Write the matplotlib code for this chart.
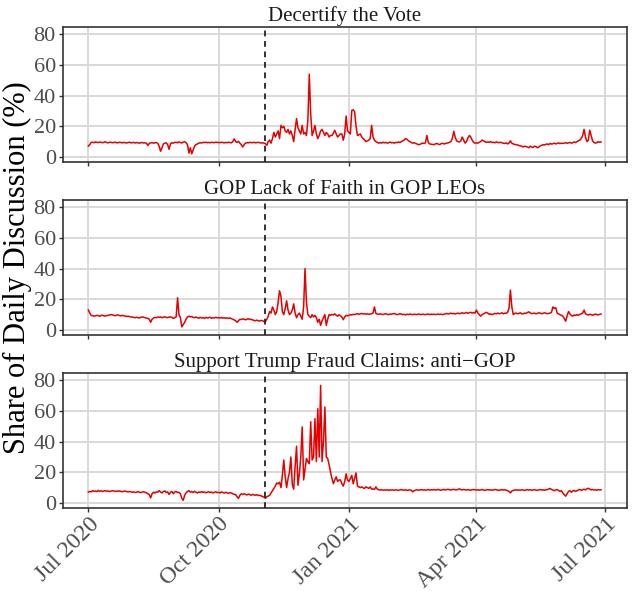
import matplotlib
matplotlib.use("Agg")
import matplotlib.pyplot as plt
import numpy as np
import pandas as pd

plt.rcParams['font.family'] = ['Liberation Serif', 'DejaVu Serif']

start_date = "2020-07-01"
election_date = "2020-11-03"
panel_titles = ["Decertify the Vote", "GOP Lack of Faith in GOP LEOs",
                "Support Trump Fraud Claims: anti\u2212GOP"]
tick_dates = ["2020-07-01", "2020-10-01", "2021-01-01", "2021-04-01", "2021-07-01"]
tick_labels = ["Jul 2020", "Oct 2020", "Jan 2021", "Apr 2021", "Jul 2021"]
y_ticks = [0, 20, 40, 60, 80]

# ---- Decertify the Vote (daily, by month) ----
dec_jul = [7.1, 8.0, 9.5, 9.6, 9.3, 9.8, 9.5, 9.4, 9.7, 9.6, 9.3, 9.5, 9.9, 9.4, 9.2, 9.6,
           9.5, 9.3, 9.4, 9.7, 9.2, 9.3, 9.6, 9.4, 9.2, 9.5, 9.3, 9.1, 9.4, 9.6, 9.2]
dec_aug = [9.3, 9.5, 9.1, 9.4, 9.2, 9.0, 9.3, 9.4, 9.1, 9.2, 9.0, 7.5, 8.8, 9.2, 9.3, 9.0,
           9.2, 9.4, 8.9, 7.0, 3.7, 6.0, 8.5, 9.0, 9.2, 8.0, 5.0, 8.5, 9.3, 9.0, 9.5]
dec_sep = [9.6, 9.2, 9.8, 9.4, 9.1, 9.7, 10.0, 9.3, 8.0, 2.5, 6.0, 2.0, 4.5, 7.0, 8.0,
           8.5, 9.0, 9.3, 9.1, 9.5, 9.4, 9.6, 9.3, 9.5, 9.2, 9.6, 9.4, 9.3, 9.7, 9.4]
dec_oct = [9.5, 9.3, 9.6, 9.4, 9.2, 9.5, 9.3, 9.6, 9.4, 9.2, 10.0, 11.8, 10.0, 9.5, 10.2,
           9.0, 8.0, 6.5, 8.0, 9.0, 9.3, 9.2, 9.5, 9.4, 9.3, 9.6, 9.2, 9.4, 9.5, 9.3, 9.1]
dec_nov = [9.2, 9.0, 8.7, 7.6, 10.0, 11.0, 9.0, 12.0, 16.0, 13.0, 15.0, 17.0, 12.0, 20.6,
           19.0, 20.0, 17.0, 16.0, 18.0, 15.0, 17.0, 14.0, 10.0, 18.0, 25.0, 19.0, 17.0,
           15.0, 20.6, 15.0]
dec_dec = [16.0, 14.0, 24.0, 54.0, 28.0, 14.0, 17.0, 20.6, 15.0, 12.0, 14.0, 17.0, 18.0,
           16.0, 14.0, 16.0, 15.0, 13.0, 14.0, 14.0, 15.5, 17.4, 15.0, 13.0, 14.0, 15.0,
           15.0, 10.9, 15.0, 26.7, 17.0]
dec_jan = [16.0, 15.0, 30.4, 30.8, 29.5, 20.0, 14.0, 14.5, 15.0, 13.0, 12.0, 11.0, 10.0,
           10.5, 11.0, 12.0, 20.6, 13.0, 11.0, 10.0, 9.5, 9.0, 9.4, 9.0, 9.6, 9.2, 9.5, 9.0,
           9.3, 9.7, 9.2]
dec_feb = [9.4, 9.0, 9.5, 9.3, 9.8, 9.4, 10.0, 10.5, 11.0, 12.0, 11.5, 10.5, 10.0, 9.5,
           9.0, 9.3, 8.8, 8.5, 8.0, 8.2, 8.6, 9.0, 8.8, 9.2, 14.0, 9.5, 8.5, 8.3]
dec_mar = [8.2, 8.0, 8.5, 8.8, 8.4, 8.0, 8.6, 8.9, 8.5, 8.7, 9.0, 9.2, 9.5, 10.0, 12.0,
           16.7, 13.0, 10.5, 10.0, 9.8, 10.5, 13.0, 11.0, 9.0, 10.0, 12.5, 14.0, 13.0, 11.0,
           9.5, 9.0]
dec_apr = [9.2, 9.0, 9.5, 10.0, 11.0, 10.5, 10.0, 9.5, 9.8, 9.5, 10.0, 9.4, 9.6, 9.2, 9.8,
           9.5, 9.3, 9.6, 9.2, 9.0, 8.8, 9.2, 8.5, 9.0, 10.5, 9.0, 8.5, 8.2, 8.0, 7.8]
dec_may = [7.5, 7.2, 7.0, 6.5, 7.0, 6.8, 6.5, 6.0, 7.0, 6.5, 6.2, 7.0, 6.8, 6.0, 6.5, 7.2,
           7.5, 8.0, 7.8, 8.2, 8.5, 8.0, 8.8, 8.4, 8.6, 9.0, 8.5, 8.8, 9.2, 8.7, 9.0]
dec_jun = [8.8, 9.0, 9.3, 8.9, 9.2, 9.5, 9.0, 9.3, 9.8, 9.4, 10.0, 10.5, 11.0, 12.0, 14.0,
           18.0, 13.0, 10.0, 11.0, 17.5, 14.0, 10.5, 9.5, 9.0, 9.3, 10.0, 9.5, 9.8]

# ---- GOP Lack of Faith in GOP LEOs ----
lof_jul = [13.0, 11.0, 9.5, 9.3, 9.0, 9.2, 9.5, 9.3, 9.0, 9.4, 9.6, 9.2, 9.0, 9.4, 9.5,
           9.8, 10.0, 9.8, 9.5, 9.3, 9.6, 9.8, 9.4, 9.2, 9.5, 9.3, 9.0, 8.8, 9.0, 8.7, 8.5]
lof_aug = [8.4, 8.2, 8.0, 8.3, 8.0, 7.8, 8.2, 8.5, 8.3, 8.0, 7.8, 7.5, 7.0, 5.0, 7.0, 7.8,
           8.2, 8.0, 8.4, 8.2, 8.5, 8.0, 8.3, 8.6, 8.2, 8.0, 8.4, 8.5, 8.2, 7.5, 8.0]
lof_sep = [8.5, 21.0, 10.0, 8.0, 2.0, 3.5, 5.0, 7.0, 8.5, 9.0, 8.5, 8.8, 8.2, 8.0, 8.4,
           8.0, 7.6, 8.2, 7.8, 8.0, 7.5, 8.2, 7.8, 8.0, 8.3, 7.6, 8.0, 7.8, 8.2, 7.9]
lof_oct = [8.0, 7.8, 8.1, 7.7, 8.0, 7.6, 7.9, 7.5, 7.8, 7.4, 7.0, 6.5, 6.0, 5.0, 6.0, 7.0,
           6.8, 7.2, 7.0, 6.6, 7.0, 7.3, 6.8, 7.0, 6.5, 6.2, 6.0, 6.4, 6.0, 5.8, 6.2]
lof_nov = [6.0, 5.5, 5.5, 7.0, 9.0, 12.0, 11.0, 15.0, 13.0, 10.0, 12.0, 18.0, 25.6, 22.0,
           12.0, 10.0, 14.0, 19.0, 13.0, 10.0, 11.0, 13.0, 17.0, 11.0, 8.0, 10.0, 11.0, 9.0,
           7.0, 15.0]
lof_dec = [40.0, 18.0, 10.0, 9.0, 8.0, 10.0, 8.5, 9.5, 8.0, 5.0, 7.0, 3.0, 6.0, 8.0, 10.0,
           3.0, 7.0, 10.0, 9.5, 10.2, 9.8, 10.5, 9.6, 9.0, 9.8, 9.2, 8.5, 6.7, 8.5, 9.5, 9.2]
lof_jan = [9.5, 10.0, 9.8, 10.2, 10.0, 10.4, 10.6, 10.2, 10.5, 10.8, 10.4, 10.6, 10.3, 10.5,
           10.2, 10.4, 10.6, 11.0, 15.0, 10.8, 10.4, 10.2, 10.5, 10.3, 10.0, 10.4, 10.6, 10.2,
           10.0, 10.4, 10.3]
lof_feb = [10.5, 10.8, 10.3, 10.0, 10.2, 10.6, 10.4, 10.0, 10.2, 9.8, 10.3, 10.0, 10.4,
           10.2, 9.9, 10.3, 10.1, 10.0, 10.4, 10.2, 10.0, 10.3, 10.1, 10.0, 10.2, 10.4, 10.0,
           10.3]
lof_mar = [10.1, 10.3, 10.0, 10.2, 10.4, 10.1, 10.3, 10.0, 10.2, 10.5, 10.8, 10.4, 10.6,
           11.0, 10.5, 10.8, 10.4, 10.7, 11.0, 10.6, 10.9, 11.2, 10.8, 11.0, 11.4, 10.8, 11.2,
           11.5, 11.0, 11.3, 11.0]
lof_apr = [13.0, 11.0, 10.0, 9.0, 10.0, 10.5, 11.0, 11.5, 11.0, 10.2, 10.5, 10.0, 10.3,
           10.8, 10.5, 11.0, 10.6, 10.8, 11.2, 10.5, 11.0, 10.8, 11.5, 14.0, 26.0, 15.0, 10.0,
           10.8, 11.0, 10.5]
lof_may = [10.8, 11.2, 10.6, 10.4, 11.0, 10.8, 11.4, 11.8, 11.2, 10.6, 10.8, 11.0, 10.5,
           10.8, 11.2, 11.0, 10.6, 10.8, 11.2, 10.9, 10.6, 10.8, 11.0, 11.5, 15.0, 14.0, 14.5,
           11.0, 10.5, 10.0, 9.5]
lof_jun = [9.0, 7.5, 5.7, 9.0, 12.0, 10.5, 9.5, 9.0, 9.8, 9.4, 10.0, 9.6, 10.2, 10.5, 11.0,
           13.0, 10.5, 10.0, 9.8, 10.2, 10.0, 9.6, 10.0, 10.4, 10.0, 9.8, 10.2, 10.4]

# ---- Support Trump Fraud Claims: anti-GOP ----
stf_jul = [7.0, 7.5, 7.2, 8.0, 7.6, 7.8, 7.4, 8.2, 7.6, 7.9, 7.5, 7.8, 8.0, 7.6, 7.9, 7.4,
           7.7, 8.0, 7.8, 7.5, 7.8, 7.6, 7.9, 7.5, 7.3, 7.6, 7.8, 7.4, 7.2, 7.5, 7.3]
stf_aug = [7.0, 7.2, 6.8, 7.0, 7.4, 7.0, 6.7, 7.1, 7.3, 7.0, 6.6, 6.0, 5.5, 3.3, 6.0, 7.0,
           6.5, 7.2, 7.0, 8.0, 7.2, 6.5, 7.5, 7.8, 6.8, 7.2, 5.5, 7.0, 7.5, 6.0, 7.2]
stf_sep = [7.5, 6.8, 7.0, 6.0, 3.0, 1.7, 5.0, 6.5, 7.5, 8.0, 7.0, 7.4, 6.8, 7.6, 7.0, 6.5,
           7.2, 6.8, 7.4, 6.9, 7.2, 6.6, 7.0, 7.3, 6.8, 7.1, 6.5, 7.0, 7.2, 6.7]
stf_oct = [7.0, 6.5, 7.2, 6.8, 6.4, 7.0, 6.6, 6.2, 6.8, 6.5, 6.0, 5.5, 5.5, 4.0, 3.0, 5.0,
           6.0, 5.5, 6.0, 5.6, 5.2, 5.8, 5.4, 5.0, 5.6, 5.2, 5.0, 5.4, 4.8, 5.0, 4.6]
stf_nov = [4.2, 3.8, 3.0, 4.0, 4.5, 5.0, 6.5, 8.0, 9.5, 11.0, 13.0, 12.5, 13.5, 10.0, 18.0,
           28.0, 17.0, 10.0, 16.0, 20.0, 30.0, 12.0, 9.0, 24.0, 37.0, 11.5, 19.0, 30.0, 49.6,
           15.0]
stf_dec = [22.0, 29.0, 27.0, 25.6, 53.0, 28.0, 30.0, 55.0, 27.0, 61.5, 30.0, 76.7, 27.0,
           40.0, 62.6, 30.0, 29.0, 25.0, 20.0, 16.0, 12.6, 15.0, 17.0, 14.0, 15.0, 15.0, 12.6,
           11.0, 14.0, 19.0, 15.0]
stf_jan = [14.0, 16.0, 18.0, 12.5, 16.0, 19.6, 11.0, 10.5, 10.0, 10.5, 9.8, 9.5, 10.5, 10.0,
           9.5, 10.5, 9.0, 9.2, 8.8, 10.5, 9.0, 8.6, 8.4, 8.6, 8.3, 8.5, 8.4, 8.6, 8.2, 8.5, 8.4]
stf_feb = [8.5, 8.3, 8.6, 8.4, 8.2, 8.5, 8.7, 8.4, 8.3, 8.6, 8.2, 8.4, 8.5, 8.3, 7.2, 8.0,
           8.4, 8.6, 8.3, 8.5, 8.7, 8.4, 8.6, 8.3, 8.5, 8.8, 8.4, 8.6]
stf_mar = [8.5, 8.7, 8.4, 8.6, 8.8, 8.5, 8.3, 8.6, 8.8, 8.5, 8.7, 8.9, 8.6, 8.4, 8.7, 8.9,
           8.6, 8.5, 8.8, 9.2, 8.7, 8.5, 8.8, 8.6, 8.4, 8.7, 8.5, 8.3, 8.6, 8.8, 8.5]
stf_apr = [8.4, 8.6, 8.3, 8.5, 8.8, 8.4, 8.2, 8.5, 8.7, 8.4, 8.6, 8.3, 8.5, 8.8, 8.6, 8.4,
           8.2, 8.5, 8.7, 8.4, 8.6, 8.3, 8.0, 7.5, 6.6, 7.8, 8.2, 8.4, 8.6, 8.3]
stf_may = [8.5, 8.3, 8.6, 8.4, 8.2, 8.5, 8.7, 8.4, 8.6, 8.3, 8.5, 8.7, 8.4, 8.2, 8.5, 8.8,
           8.4, 8.6, 8.3, 8.5, 8.7, 9.0, 9.5, 8.8, 8.4, 8.0, 8.5, 8.7, 8.2, 7.5, 8.0]
stf_jun = [6.5, 5.5, 4.4, 6.0, 7.5, 8.0, 7.0, 7.8, 8.2, 7.5, 8.0, 8.5, 8.8, 8.2, 8.6, 9.0,
           8.5, 9.2, 9.6, 9.0, 8.5, 8.8, 8.4, 8.6, 8.3, 8.7, 8.5, 8.6]

decertify = (dec_jul + dec_aug + dec_sep + dec_oct + dec_nov + dec_dec + dec_jan +
             dec_feb + dec_mar + dec_apr + dec_may + dec_jun)
lack_faith = (lof_jul + lof_aug + lof_sep + lof_oct + lof_nov + lof_dec + lof_jan +
              lof_feb + lof_mar + lof_apr + lof_may + lof_jun)
support_fraud = (stf_jul + stf_aug + stf_sep + stf_oct + stf_nov + stf_dec + stf_jan +
                 stf_feb + stf_mar + stf_apr + stf_may + stf_jun)
series = [decertify, lack_faith, support_fraud]

fig = plt.figure(figsize=(6.32, 5.91), dpi=100)
W, H = 632, 591
left_px, right_px = 62.7, 626.7
panels_px = [(27, 162), (200, 335), (373, 508)]

xmin = pd.Timestamp(start_date) - pd.Timedelta(days=18.1)
xmax = pd.Timestamp(start_date) + pd.Timedelta(days=380.1)

axes = []
for i, (top, bot) in enumerate(panels_px):
    ax = fig.add_axes([left_px / W, 1 - bot / H, (right_px - left_px) / W, (bot - top) / H])
    axes.append(ax)
    vals = series[i]
    dates = pd.date_range(start_date, periods=len(vals), freq="D")
    ax.set_axisbelow(True)
    ax.grid(True, color="#D9D9D9", linewidth=1.4)
    ax.plot(dates, vals, color="#E60000", linewidth=1.1, zorder=3)
    ax.axvline(pd.Timestamp(election_date), color="#222222", linestyle=(0, (3.2, 2.6)),
               linewidth=1.3, zorder=4)
    ax.set_xlim(xmin, xmax)
    ax.set_ylim(-3.3, 84.8)
    ax.set_yticks(y_ticks)
    ax.set_yticklabels([str(t) for t in y_ticks], fontsize=16, color="#4D4D4D")
    ax.set_xticks([pd.Timestamp(d) for d in tick_dates])
    ax.tick_params(axis="both", length=3.0, width=1.0, color="#333333", pad=2)
    if i < 2:
        ax.set_xticklabels([])
    else:
        ax.set_xticklabels(tick_labels, rotation=45, ha="right", va="top",
                           rotation_mode="anchor", fontsize=17, color="#4D4D4D")
        ax.tick_params(axis="x", pad=1)
    for s in ax.spines.values():
        s.set_color("#333333")
        s.set_linewidth(1.2)
    ax.set_title(panel_titles[i], fontsize=15, color="#1A1A1A", pad=4)

fig.text(0.028, (1 - 27 / H + 1 - 508 / H) / 2, "Share of Daily Discussion (%)",
         rotation=90, ha="center", va="center", fontsize=22, color="black")

fig.savefig("out.png", dpi=100)
print(len(decertify), len(lack_faith), len(support_fraud))
